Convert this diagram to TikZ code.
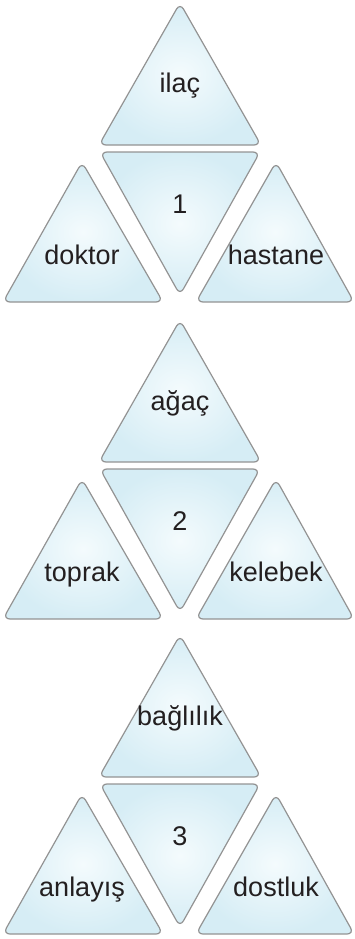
\documentclass[tikz,border=0pt]{standalone}
\usepackage{fontspec}
\setmainfont{Liberation Sans}
\usepackage{tikz}
\usetikzlibrary{positioning}
\definecolor{triline}{HTML}{939393}
\definecolor{triin}{HTML}{F4FBFD}
\definecolor{triout}{HTML}{D6EDF5}
\definecolor{wordcol}{HTML}{231F20}

\begin{document}
\begin{tikzpicture}[x=1pt,y=-1pt]
	\tikzstyle{tri}=[draw=triline,line width=1.2pt,rounded corners=7pt,inner color=triin,outer color=triout]
	\tikzstyle{word}=[anchor=base,inner sep=0pt,text=wordcol,font=\fontsize{27}{30}\selectfont]
	
	\useasboundingbox (0,0) rectangle (355,939);
	
	\foreach \g/\y/\t/\l/\r in {1/0/ilaç/doktor/hastane,
		2/317/ağaç/toprak/kelebek,
		3/632/bağlılık/anlayış/dostluk}
	{
		\begin{scope}[shift={(0,\y)}]
			% four tiles of one puzzle
			\path[tri] (180,3) -- (261,145) -- (99,145) -- cycle;
			\path[tri] (100,152) -- (260,152) -- (180,295) -- cycle;
			\path[tri] (82,162) -- (163,302) -- (3,302) -- cycle;
			\path[tri] (276,162) -- (354,302) -- (196,302) -- cycle;
			
			\node[word] (top\g) at (180,93) {\t};
			\node[word] (num\g) at (180,213) {\g};
			\node[word] (left\g) at (82,264) {\l};
			\node[word] (right\g) at (276,264) {\r};
		\end{scope}
	}
\end{tikzpicture}
\end{document}
